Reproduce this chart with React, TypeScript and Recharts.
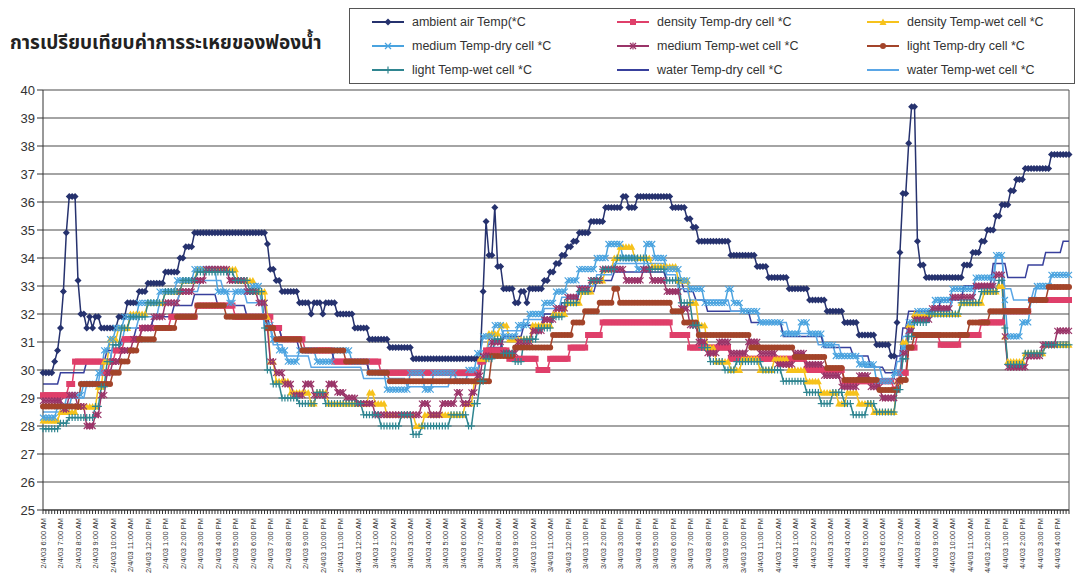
import React from 'react';
import { LineChart, Line, XAxis, YAxis, CartesianGrid, Legend, ReferenceLine } from 'recharts';

// 10-minute readings from 2/4/03 6:00 AM
const N = 353;

const hourLabels = [
  '2/4/03 6:00 AM', '2/4/03 7:00 AM', '2/4/03 8:00 AM', '2/4/03 9:00 AM', '2/4/03 10:00 AM', '2/4/03 11:00 AM',
  '2/4/03 12:00 PM', '2/4/03 1:00 PM', '2/4/03 2:00 PM', '2/4/03 3:00 PM', '2/4/03 4:00 PM', '2/4/03 5:00 PM',
  '2/4/03 6:00 PM', '2/4/03 7:00 PM', '2/4/03 8:00 PM', '2/4/03 9:00 PM', '2/4/03 10:00 PM', '2/4/03 11:00 PM',
  '3/4/03 12:00 AM', '3/4/03 1:00 AM', '3/4/03 2:00 AM', '3/4/03 3:00 AM', '3/4/03 4:00 AM', '3/4/03 5:00 AM',
  '3/4/03 6:00 AM', '3/4/03 7:00 AM', '3/4/03 8:00 AM', '3/4/03 9:00 AM', '3/4/03 10:00 AM', '3/4/03 11:00 AM',
  '3/4/03 12:00 PM', '3/4/03 1:00 PM', '3/4/03 2:00 PM', '3/4/03 3:00 PM', '3/4/03 4:00 PM', '3/4/03 5:00 PM',
  '3/4/03 6:00 PM', '3/4/03 7:00 PM', '3/4/03 8:00 PM', '3/4/03 9:00 PM', '3/4/03 10:00 PM', '3/4/03 11:00 PM',
  '4/4/03 12:00 AM', '4/4/03 1:00 AM', '4/4/03 2:00 AM', '4/4/03 3:00 AM', '4/4/03 4:00 AM', '4/4/03 5:00 AM',
  '4/4/03 6:00 AM', '4/4/03 7:00 AM', '4/4/03 8:00 AM', '4/4/03 9:00 AM', '4/4/03 10:00 AM', '4/4/03 11:00 AM',
  '4/4/03 12:00 PM', '4/4/03 1:00 PM', '4/4/03 2:00 PM', '4/4/03 3:00 PM', '4/4/03 4:00 PM',
];

const yTicks = [25, 26, 27, 28, 29, 30, 31, 32, 33, 34, 35, 36, 37, 38, 39, 40];

// each run: [held reading, index of the reading where it changes]
const ambientRuns = [
  [29.9, 4], [30.3, 5], [30.7, 6], [31.5, 7], [32.8, 8], [34.9, 9], [36.2, 12], [33.2, 13], [32.0, 15], [31.5, 16],
  [31.9, 17], [31.5, 18], [31.9, 20], [31.5, 26], [31.9, 29], [32.4, 33], [32.8, 36], [33.1, 42], [33.5, 47], [34.0, 49],
  [34.4, 52], [34.9, 77], [34.5, 78], [33.6, 80], [33.2, 82], [32.8, 88], [32.4, 92], [32.0, 93], [32.4, 96], [32.0, 97],
  [32.4, 101], [32.0, 107], [31.5, 112], [31.1, 119], [30.8, 127], [30.4, 151], [32.8, 152], [35.3, 153], [34.1, 155],
  [35.8, 156], [33.7, 158], [32.9, 162], [32.4, 164], [32.8, 166], [32.4, 167], [32.9, 172], [33.2, 174], [33.5, 176],
  [33.8, 178], [34.1, 180], [34.4, 182], [34.6, 184], [34.9, 188], [35.3, 193], [35.8, 199], [36.2, 201], [35.8, 204],
  [36.2, 216], [35.8, 221], [35.4, 223], [35.1, 225], [34.6, 236], [34.1, 245], [33.7, 249], [33.3, 256], [32.9, 263],
  [32.5, 269], [32.1, 275], [31.7, 280], [31.25, 286], [30.9, 291], [30.5, 293], [31.7, 294], [34.2, 295], [36.3, 297],
  [38.1, 298], [39.4, 300], [34.6, 301], [33.75, 303], [33.3, 316], [33.75, 319], [34.2, 322], [34.6, 324], [35.0, 327],
  [35.5, 329], [35.9, 332], [36.4, 334], [36.8, 337], [37.2, 346], [37.7, 353],
];

const densityDryRuns = [
  [29.1, 9], [29.5, 11], [30.3, 21], [29.9, 23], [30.3, 25], [30.7, 28], [31.1, 34], [31.5, 44], [31.9, 53], [32.3, 66],
  [31.9, 79], [31.5, 82], [31.1, 90], [30.7, 100], [30.3, 116], [29.9, 150], [30.3, 152], [30.7, 160], [30.4, 170],
  [30.0, 174], [30.4, 181], [30.8, 187], [31.25, 192], [31.7, 216], [31.25, 222], [30.8, 236], [30.4, 262], [30.0, 275],
  [29.6, 292], [29.3, 294], [29.9, 297], [30.8, 300], [31.25, 308], [30.9, 315], [31.25, 322], [31.7, 330], [32.1, 339],
  [32.5, 353],
];

const densityWetRuns = [
  [28.2, 6], [28.5, 12], [28.7, 19], [29.4, 21], [30.3, 23], [31.1, 26], [31.5, 30], [32.0, 36], [32.4, 42], [32.8, 48],
  [33.2, 53], [33.6, 67], [33.2, 73], [32.8, 77], [31.9, 78], [30.3, 80], [29.6, 85], [29.2, 92], [28.8, 94], [29.2, 98],
  [28.8, 112], [29.2, 114], [28.8, 118], [28.4, 128], [28.0, 131], [28.4, 145], [28.8, 148], [29.6, 150], [30.4, 153],
  [31.3, 157], [31.6, 160], [31.1, 168], [31.6, 175], [32.0, 180], [32.4, 185], [32.8, 189], [33.2, 193], [33.6, 196],
  [34.0, 198], [34.4, 203], [34.0, 209], [33.7, 218], [33.2, 222], [32.4, 225], [31.6, 228], [30.8, 231], [30.3, 236],
  [30.0, 240], [30.4, 246], [30.0, 251], [30.4, 256], [30.0, 262], [29.6, 267], [29.2, 273], [28.8, 276], [29.2, 280],
  [28.8, 285], [28.5, 293], [29.6, 295], [31.0, 297], [31.6, 299], [32.0, 315], [32.4, 323], [32.8, 328], [33.0, 330],
  [31.2, 331], [30.3, 337], [30.6, 344], [30.9, 353],
];

const mediumDryRuns = [
  [28.3, 5], [28.7, 10], [29.1, 14], [29.5, 19], [29.9, 21], [30.7, 23], [31.1, 25], [31.5, 28], [31.9, 33], [32.4, 40],
  [32.8, 46], [33.2, 52], [33.6, 60], [32.8, 64], [32.4, 66], [32.8, 72], [33.0, 75], [32.4, 77], [31.6, 79], [31.1, 81],
  [30.7, 84], [30.3, 88], [30.7, 94], [30.3, 100], [30.7, 106], [30.3, 112], [29.9, 118], [29.3, 126], [29.9, 131],
  [29.3, 134], [29.9, 142], [29.6, 146], [30.0, 149], [30.6, 151], [31.2, 155], [31.6, 158], [31.2, 163], [31.6, 167],
  [32.0, 172], [32.4, 176], [32.8, 180], [33.2, 184], [33.6, 190], [34.0, 194], [34.5, 199], [34.0, 204], [33.6, 207],
  [34.5, 210], [34.0, 214], [33.6, 219], [33.2, 222], [32.9, 227], [32.4, 235], [32.9, 237], [32.4, 240], [32.1, 246],
  [31.7, 254], [31.3, 260], [31.7, 263], [31.3, 268], [30.9, 272], [30.5, 280], [30.2, 286], [29.6, 292], [29.9, 295],
  [30.8, 297], [31.7, 300], [32.1, 306], [32.5, 312], [32.9, 320], [33.3, 327], [34.1, 330], [32.5, 331], [31.2, 336],
  [31.7, 339], [32.5, 341], [33.0, 346], [33.4, 353],
];

const mediumWetRuns = [
  [28.9, 7], [28.6, 9], [29.1, 12], [28.7, 15], [28.0, 18], [28.4, 20], [29.1, 22], [29.9, 24], [30.3, 27], [30.7, 31],
  [31.1, 34], [31.5, 38], [31.9, 42], [32.4, 47], [32.8, 52], [33.2, 56], [33.6, 64], [33.2, 70], [32.8, 74], [32.4, 77],
  [31.5, 78], [30.3, 80], [29.9, 83], [29.5, 86], [29.1, 90], [29.5, 93], [29.1, 98], [29.5, 101], [29.2, 104], [29.0, 108],
  [28.8, 114], [28.4, 130], [28.8, 133], [28.4, 137], [28.8, 142], [29.2, 144], [28.8, 147], [29.2, 149], [29.8, 151],
  [30.5, 154], [31.0, 158], [30.6, 163], [31.0, 168], [31.4, 172], [31.8, 176], [32.2, 180], [32.6, 184], [32.9, 188],
  [33.2, 192], [33.6, 200], [33.2, 206], [33.6, 209], [33.2, 214], [32.8, 219], [32.2, 222], [31.6, 225], [31.0, 228],
  [30.6, 232], [31.0, 236], [30.6, 242], [31.0, 246], [30.6, 252], [30.2, 258], [30.6, 262], [30.2, 268], [29.8, 274],
  [29.4, 280], [29.8, 284], [29.4, 288], [29.0, 293], [29.6, 295], [30.6, 297], [31.4, 299], [31.8, 305], [32.2, 312],
  [32.6, 320], [33.0, 327], [33.4, 330], [31.2, 331], [30.1, 338], [30.5, 343], [30.9, 348], [31.4, 353],
];

const lightDryRuns = [
  [28.7, 13], [29.5, 24], [29.9, 27], [30.3, 30], [30.7, 33], [31.1, 39], [31.5, 46], [31.9, 53], [32.3, 63], [31.9, 77],
  [31.5, 80], [31.1, 89], [30.7, 104], [30.3, 112], [29.9, 119], [29.6, 154], [30.5, 162], [30.8, 175], [31.25, 182],
  [31.7, 186], [32.1, 191], [32.4, 196], [32.9, 198], [32.4, 216], [32.1, 220], [31.7, 225], [31.25, 243], [30.8, 258],
  [30.46, 269], [30.07, 275], [29.64, 287], [29.29, 294], [29.64, 297], [30.8, 299], [31.25, 318], [31.7, 325],
  [32.1, 339], [32.5, 345], [32.96, 353],
];

const lightWetRuns = [
  [27.9, 6], [28.1, 9], [28.3, 18], [28.7, 20], [29.4, 22], [30.3, 24], [30.9, 27], [31.5, 30], [31.9, 36], [32.4, 42],
  [32.8, 48], [33.2, 53], [33.5, 66], [33.2, 71], [32.8, 76], [31.5, 77], [30.0, 79], [29.5, 82], [29.0, 88], [28.8, 94],
  [29.2, 97], [28.8, 110], [28.4, 116], [28.0, 123], [28.4, 127], [27.7, 130], [28.0, 140], [28.4, 146], [28.0, 148],
  [28.8, 150], [29.6, 152], [30.4, 155], [31.1, 158], [30.6, 162], [30.3, 165], [31.1, 170], [31.5, 175], [31.9, 179],
  [32.4, 184], [32.8, 188], [33.2, 192], [33.6, 197], [34.0, 208], [33.6, 214], [33.2, 219], [32.4, 223], [31.6, 226],
  [30.8, 229], [30.3, 234], [30.0, 238], [30.3, 247], [30.0, 254], [29.6, 262], [29.2, 267], [28.8, 271], [29.2, 275],
  [28.8, 278], [28.4, 283], [28.8, 286], [28.5, 293], [29.3, 295], [30.4, 297], [31.2, 299], [31.7, 304], [32.0, 315],
  [32.4, 322], [32.8, 328], [33.2, 330], [31.5, 331], [30.2, 337], [30.6, 344], [30.9, 353],
];

const waterDryRuns = [
  [29.5, 6], [29.9, 15], [30.3, 22], [30.7, 27], [31.1, 32], [31.5, 38], [31.9, 45], [32.3, 52], [32.7, 60], [32.3, 70],
  [31.9, 78], [31.5, 82], [31.1, 88], [30.7, 100], [30.3, 112], [29.9, 150], [30.3, 153], [30.8, 158], [31.2, 165],
  [31.6, 172], [32.0, 178], [32.4, 184], [32.8, 190], [33.2, 196], [33.5, 214], [33.2, 220], [32.8, 224], [32.5, 228],
  [32.1, 243], [31.7, 254], [31.2, 268], [30.8, 278], [30.5, 284], [30.1, 289], [29.9, 293], [30.5, 295], [31.5, 297],
  [32.1, 308], [32.5, 316], [33.0, 326], [33.8, 331], [33.3, 338], [33.75, 344], [34.2, 350], [34.6, 353],
];

const waterWetRuns = [
  [28.5, 8], [29.0, 15], [29.5, 20], [30.3, 24], [30.9, 28], [31.5, 33], [31.9, 40], [32.4, 47], [32.8, 54], [33.2, 62],
  [32.8, 70], [32.4, 76], [31.5, 79], [30.9, 83], [30.5, 92], [30.1, 110], [29.7, 125], [29.4, 140], [29.8, 150],
  [30.5, 153], [31.0, 158], [31.4, 165], [31.8, 172], [32.2, 178], [32.6, 184], [33.0, 190], [33.4, 196], [33.8, 214],
  [33.4, 218], [32.9, 222], [32.5, 236], [32.1, 246], [31.7, 256], [31.3, 266], [30.9, 274], [30.5, 282], [30.1, 288],
  [29.7, 293], [30.3, 295], [31.2, 297], [31.7, 305], [32.1, 312], [32.5, 320], [32.9, 327], [34.0, 330], [32.9, 333],
  [32.5, 340], [32.9, 346], [33.4, 353],
];

function unroll(runs: number[][]) {
  const out: number[] = [];
  let start = 0;
  for (const [v, end] of runs) {
    for (let i = start; i < end; i++) out.push(v);
    start = end;
  }
  return out;
}

const seriesList = [
  { key: 'ambient', name: 'ambient air Temp(*C', color: '#26326e', shape: 'diamond', runs: ambientRuns },
  { key: 'densityDry', name: 'density Temp-dry cell *C', color: '#df3f6a', shape: 'square', runs: densityDryRuns },
  { key: 'densityWet', name: 'density Temp-wet cell *C', color: '#f6c21c', shape: 'triangle', runs: densityWetRuns },
  { key: 'mediumDry', name: 'medium Temp-dry cell *C', color: '#4aa3df', shape: 'x', runs: mediumDryRuns },
  { key: 'mediumWet', name: 'medium Temp-wet cell *C', color: '#9a3468', shape: 'star', runs: mediumWetRuns },
  { key: 'lightDry', name: 'light Temp-dry cell *C', color: '#a3442a', shape: 'circle', runs: lightDryRuns },
  { key: 'lightWet', name: 'light Temp-wet cell *C', color: '#2f8590', shape: 'plus', runs: lightWetRuns },
  { key: 'waterDry', name: 'water Temp-dry cell *C', color: '#38409c', shape: 'none', runs: waterDryRuns },
  { key: 'waterWet', name: 'water Temp-wet cell *C', color: '#5aa6e6', shape: 'none', runs: waterWetRuns },
];

const unrolled = seriesList.map((s) => unroll(s.runs));
const data = Array.from({ length: N }, (_, i) => {
  const row: Record<string, number> = { idx: i };
  seriesList.forEach((s, k) => { row[s.key] = unrolled[k][i]; });
  return row;
});

const FONT = '"Liberation Sans", Arial, sans-serif';

function Marker({ shape, color, cx, cy, r = 3 }: any) {
  switch (shape) {
    case 'diamond':
      return <polygon points={`${cx},${cy - r - 0.5} ${cx + r + 0.5},${cy} ${cx},${cy + r + 0.5} ${cx - r - 0.5},${cy}`} fill={color} />;
    case 'square':
      return <rect x={cx - r} y={cy - r} width={2 * r} height={2 * r} fill={color} />;
    case 'triangle':
      return <polygon points={`${cx},${cy - r - 0.5} ${cx + r + 0.5},${cy + r} ${cx - r - 0.5},${cy + r}`} fill={color} />;
    case 'circle':
      return <circle cx={cx} cy={cy} r={r} fill={color} />;
    case 'x':
      return (
        <g stroke={color} strokeWidth={1.2}>
          <line x1={cx - r} y1={cy - r} x2={cx + r} y2={cy + r} />
          <line x1={cx - r} y1={cy + r} x2={cx + r} y2={cy - r} />
        </g>
      );
    case 'star':
      return (
        <g stroke={color} strokeWidth={1.2}>
          <line x1={cx - r} y1={cy - r} x2={cx + r} y2={cy + r} />
          <line x1={cx - r} y1={cy + r} x2={cx + r} y2={cy - r} />
          <line x1={cx} y1={cy - r - 0.5} x2={cx} y2={cy + r + 0.5} />
        </g>
      );
    case 'plus':
      return (
        <g stroke={color} strokeWidth={1.2}>
          <line x1={cx - r - 0.5} y1={cy} x2={cx + r + 0.5} y2={cy} />
          <line x1={cx} y1={cy - r - 0.5} x2={cx} y2={cy + r + 0.5} />
        </g>
      );
    default:
      return null;
  }
}

function makeDot(shape: string, color: string) {
  return (p: any) => {
    const { cx, cy, index } = p;
    if (cx == null || cy == null) return <g key={index} />;
    return (
      <g key={index}>
        <Marker shape={shape} color={color} cx={cx} cy={cy} />
      </g>
    );
  };
}

function TimeTick(props: any) {
  const { x, y, index } = props;
  if (index % 6 !== 0) return <g />;
  return (
    <text
      transform={`translate(${x + 3},${y + 2}) rotate(-90)`}
      textAnchor="end"
      fontSize={7.5}
      fontFamily={FONT}
      fill="#333"
    >
      {hourLabels[index / 6]}
    </text>
  );
}

function LegendBox() {
  return (
    <div
      style={{
        border: '1px solid #555',
        background: '#fff',
        width: 726,
        height: 76,
        boxSizing: 'border-box',
        display: 'grid',
        gridTemplateColumns: '245px 250px 220px',
        gridTemplateRows: '24px 24px 24px',
        padding: '1px 0 0 20px',
        fontFamily: FONT,
        fontSize: 12.5,
        color: '#333',
      }}
    >
      {seriesList.map((s) => (
        <div key={s.key} style={{ display: 'flex', alignItems: 'center' }}>
          <svg width={36} height={12} style={{ marginRight: 6 }}>
            <line x1={2} y1={6} x2={34} y2={6} stroke={s.color} strokeWidth={2} />
            <Marker shape={s.shape} color={s.color} cx={18} cy={6} />
          </svg>
          <span>{s.name}</span>
        </div>
      ))}
    </div>
  );
}

export default function App() {
  return (
    <div style={{ position: 'absolute', left: 0, top: 0, width: 1088, height: 574, background: '#fff' }}>
      <div
        style={{
          position: 'absolute',
          left: 10,
          top: 29,
          fontFamily: '"Noto Sans Thai", "Noto Sans", Tahoma, sans-serif',
          fontWeight: 700,
          fontSize: 19,
          color: '#222',
          zIndex: 2,
        }}
      >
        การเปรียบเทียบค่าการระเหยของฟองน้ำ
      </div>
      <LineChart width={1088} height={574} data={data} margin={{ top: 90, right: 19, left: 5, bottom: 0 }}>
        <CartesianGrid vertical={false} stroke="#4a4a4a" strokeWidth={1.2} />
        <XAxis
          dataKey="idx"
          type="category"
          interval={0}
          height={64}
          tickSize={4}
          tick={<TimeTick />}
          stroke="#333"
        />
        <YAxis
          domain={[25, 40]}
          ticks={yTicks}
          interval={0}
          width={38}
          tickSize={6}
          stroke="#333"
          tick={{ fill: '#333', fontSize: 13, fontFamily: FONT }}
        />
        <ReferenceLine x={N - 1} stroke="#555" />
        <Legend
          verticalAlign="middle"
          align="center"
          layout="horizontal"
          wrapperStyle={{ position: 'absolute', left: 349, top: 8, width: 726, height: 76 }}
          content={() => <LegendBox />}
        />
        {seriesList.map((s) => (
          <Line
            key={s.key}
            dataKey={s.key}
            name={s.name}
            type="linear"
            stroke={s.color}
            strokeWidth={1.5}
            dot={s.shape === 'none' ? false : makeDot(s.shape, s.color)}
            activeDot={false}
            isAnimationActive={false}
          />
        ))}
      </LineChart>
    </div>
  );
}
